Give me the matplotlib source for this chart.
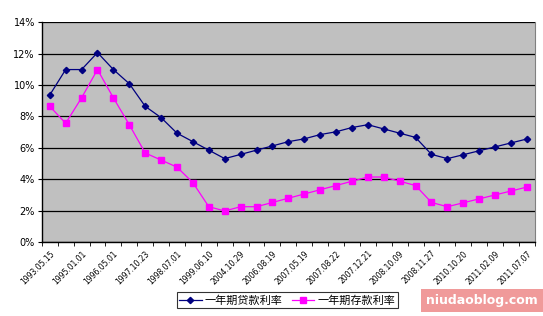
import numpy as np
import matplotlib.pyplot as plt
from matplotlib.ticker import FixedLocator

plt.rcParams['font.family'] = ['Noto Sans CJK SC', 'DejaVu Sans']

# Data
dates = ["1993.05.15", "1993.07.11", "1995.01.01", "1995.07.01", "1996.05.01", "1996.08.23",
         "1997.10.23", "1998.03.25", "1998.07.01", "1998.12.07", "1999.06.10", "2002.02.21",
         "2004.10.29", "2006.04.28", "2006.08.19", "2007.03.18", "2007.05.19", "2007.07.21",
         "2007.08.22", "2007.09.15", "2007.12.21", "2008.09.16", "2008.10.09", "2008.10.30",
         "2008.11.27", "2008.12.23", "2010.10.20", "2010.12.26", "2011.02.09", "2011.04.06",
         "2011.07.07"]
loan_rate = [9.36, 10.98, 10.98, 12.06, 10.98, 10.08, 8.64, 7.92, 6.93, 6.39, 5.85, 5.31,
             5.58, 5.85, 6.12, 6.39, 6.57, 6.84, 7.02, 7.29, 7.47, 7.20, 6.93, 6.66,
             5.58, 5.31, 5.56, 5.81, 6.06, 6.31, 6.56]
deposit_rate = [8.64, 7.56, 9.18, 10.98, 9.18, 7.47, 5.67, 5.22, 4.77, 3.78, 2.25, 1.98,
                2.25, 2.25, 2.52, 2.79, 3.06, 3.33, 3.60, 3.87, 4.14, 4.14, 3.87, 3.60,
                2.52, 2.25, 2.50, 2.75, 3.00, 3.25, 3.50]
label_names = ["一年期贷款利率", "一年期存款利率"]

x = np.arange(len(dates))

fig = plt.figure(figsize=(5.43, 3.16), dpi=100)
ax = fig.add_axes([0.077, 0.234, 0.908, 0.696])
ax.set_facecolor('#C0C0C0')

ax.plot(x, loan_rate, color='#000080', marker='D', markersize=3.2, linewidth=0.9,
        label=label_names[0], zorder=3)
ax.plot(x, deposit_rate, color='#FF00FF', marker='s', markersize=4.2, linewidth=0.9,
        label=label_names[1], zorder=3)

# Axes
ax.set_xlim(-0.5, len(dates) - 0.5)
ax.set_ylim(0, 14)
ax.set_yticks(range(0, 15, 2))
ax.set_yticklabels([f"{v}%" for v in range(0, 15, 2)], fontsize=7, family=['DejaVu Sans'])
ax.yaxis.grid(True, color='black', linewidth=0.9)
ax.set_axisbelow(True)

ax.set_xticks(x[::2])
ax.set_xticklabels(dates[::2], rotation=45, ha='right', rotation_mode='anchor',
                   fontsize=5.5, family=['DejaVu Sans'])
ax.xaxis.set_minor_locator(FixedLocator(np.arange(-0.5, len(dates), 1)))
ax.tick_params(axis='x', which='major', length=0, pad=5)
ax.tick_params(axis='x', which='minor', length=3, direction='out', color='black')
ax.tick_params(axis='y', length=3, direction='out', pad=2)

for s in ['left', 'bottom']:
    ax.spines[s].set_color('black')
    ax.spines[s].set_linewidth(1.0)
ax.spines['top'].set_visible(False)
ax.spines['right'].set_color('#808080')

leg = fig.legend(loc='center', bbox_to_anchor=(0.529, 0.05), ncol=2, fontsize=8,
                 frameon=True, fancybox=False, edgecolor='black', handlelength=2.0,
                 columnspacing=0.8, handletextpad=0.3, borderpad=0.25)
leg.get_frame().set_linewidth(0.8)

# Watermark
fig.text(0.888, 0.05, "niudaoblog.com", ha='center', va='center', fontsize=9,
         color='white', fontweight='bold', family=['DejaVu Sans'],
         bbox=dict(facecolor='#F09A9A', edgecolor='none', pad=3.5))

plt.savefig("out.png", dpi=100)
